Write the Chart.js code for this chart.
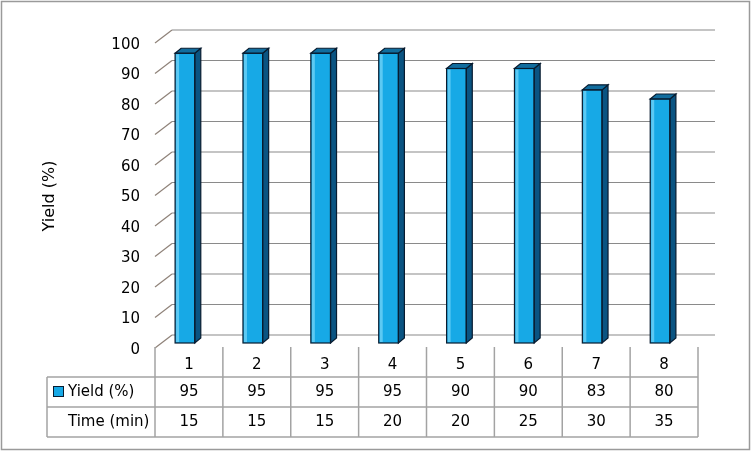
<!DOCTYPE html>
<html>
<head>
<meta charset="utf-8">
<script src="https://cdn.jsdelivr.net/npm/chart.js"></script>
<style>
  body { margin: 0; background: #fff; }
</style>
</head>
<body>
<canvas id="chart-yield" width="752" height="452"></canvas>
<script>
var runs = ['1', '2', '3', '4', '5', '6', '7', '8'];
var yieldPct = [95, 95, 95, 95, 90, 90, 83, 80];
var timeMin = [15, 15, 15, 20, 20, 25, 30, 35];
var yTicks = [0, 10, 20, 30, 40, 50, 60, 70, 80, 90, 100];

var FONT = '"DejaVu Sans", Verdana, sans-serif';

// fake 3D walls, bar sides and the data table under the plot
var deco = {
    id: 'deco',
    beforeDatasetsDraw: function(chart) {
        var ctx = chart.ctx, y = chart.scales.y;
        ctx.save();
        ctx.lineWidth = 1.2;
        yTicks.forEach(function(v) {
            var p = y.getPixelForValue(v);
            ctx.strokeStyle = '#8f8279';
            ctx.beginPath();
            ctx.moveTo(155, p + 5);
            ctx.lineTo(172, p - 8);
            ctx.stroke();
            ctx.strokeStyle = '#8a8a8a';
            ctx.beginPath();
            ctx.moveTo(172, p - 8);
            ctx.lineTo(715, p - 8);
            ctx.stroke();
        });
        ctx.restore();
    },
    afterDatasetsDraw: function(chart) {
        var ctx = chart.ctx;
        var meta = chart.getDatasetMeta(0);
        ctx.save();
        ctx.lineWidth = 1.2;
        ctx.strokeStyle = '#081c30';
        meta.data.forEach(function(bar) {
            var p = bar.getProps(['x', 'y', 'base', 'width'], true);
            var l = p.x - p.width / 2, r = p.x + p.width / 2;
            // highlight on the front face
            ctx.fillStyle = '#5cc9f3';
            ctx.fillRect(l + 1, p.y + 1, 3, p.base - p.y - 2);
            // side
            ctx.fillStyle = '#0a5482';
            ctx.beginPath();
            ctx.moveTo(r, p.y);
            ctx.lineTo(r + 6, p.y - 5);
            ctx.lineTo(r + 6, p.base - 5);
            ctx.lineTo(r, p.base);
            ctx.closePath();
            ctx.fill();
            ctx.stroke();
            // top
            ctx.fillStyle = '#116d9e';
            ctx.beginPath();
            ctx.moveTo(l, p.y);
            ctx.lineTo(l + 6, p.y - 5);
            ctx.lineTo(r + 6, p.y - 5);
            ctx.lineTo(r, p.y);
            ctx.closePath();
            ctx.fill();
            ctx.stroke();
            ctx.strokeRect(l, p.y, p.width, p.base - p.y);
        });
        ctx.restore();
    },
    afterDraw: function(chart) {
        var ctx = chart.ctx, y = chart.scales.y, x = chart.scales.x;
        ctx.save();
        ctx.fillStyle = '#000';
        ctx.font = '15px ' + FONT;
        ctx.textAlign = 'right';
        ctx.textBaseline = 'middle';
        yTicks.forEach(function(v) {
            ctx.fillText(String(v), 140, y.getPixelForValue(v) + 7);
        });

        ctx.save();
        ctx.translate(50, 196);
        ctx.rotate(-Math.PI / 2);
        ctx.textAlign = 'center';
        ctx.font = '16px ' + FONT;
        ctx.fillText('Yield (%)', 0, 0);
        ctx.restore();

        // data table
        var n = runs.length;
        var cw = (x.right - x.left) / n;
        var x0 = x.left + 4;
        var xEnd = x0 + n * cw;
        ctx.strokeStyle = '#a3a3a3';
        ctx.lineWidth = 1.5;
        for (var i = 0; i <= n; i++) {
            ctx.beginPath();
            ctx.moveTo(x0 + i * cw, 347);
            ctx.lineTo(x0 + i * cw, 437);
            ctx.stroke();
        }
        [377, 407, 437].forEach(function(ry) {
            ctx.beginPath();
            ctx.moveTo(47, ry);
            ctx.lineTo(xEnd, ry);
            ctx.stroke();
        });
        ctx.beginPath();
        ctx.moveTo(47, 377);
        ctx.lineTo(47, 437);
        ctx.stroke();

        ctx.textAlign = 'center';
        ctx.font = '15px ' + FONT;
        for (var j = 0; j < n; j++) {
            var cx = x0 + (j + 0.5) * cw;
            ctx.fillText(runs[j], cx, 365);
            ctx.fillText(String(yieldPct[j]), cx, 392);
            ctx.fillText(String(timeMin[j]), cx, 422);
        }
        ctx.textAlign = 'left';
        ctx.fillText('Yield (%)', 68, 392);
        ctx.fillText('Time (min)', 68, 422);
        ctx.fillStyle = '#17a9e6';
        ctx.fillRect(53, 386, 10, 10);
        ctx.strokeStyle = '#081c30';
        ctx.lineWidth = 1;
        ctx.strokeRect(53.5, 386.5, 10, 10);

        // frame
        ctx.strokeStyle = '#9a9a9a';
        ctx.lineWidth = 1.5;
        ctx.strokeRect(1.5, 1.5, 748, 448);
        ctx.restore();
    }
};

var config = {
    type: 'bar',
    data: {
        labels: runs,
        datasets: [{
            label: 'Yield (%)',
            data: yieldPct,
            backgroundColor: '#17a9e6',
            borderWidth: 0,
            barPercentage: 0.29,
            categoryPercentage: 1
        }]
    },
    options: {
        responsive: false,
        animation: false,
        layout: {
            padding: { left: 151, right: 58, top: 38, bottom: 109 }
        },
        plugins: {
            legend: { display: false },
            tooltip: { enabled: false }
        },
        scales: {
            x: { display: false },
            y: { display: false, min: 0, max: 100 }
        }
    },
    plugins: [deco]
};

var ctx = document.getElementById('chart-yield').getContext('2d');
new Chart(ctx, config);
</script>
</body>
</html>
